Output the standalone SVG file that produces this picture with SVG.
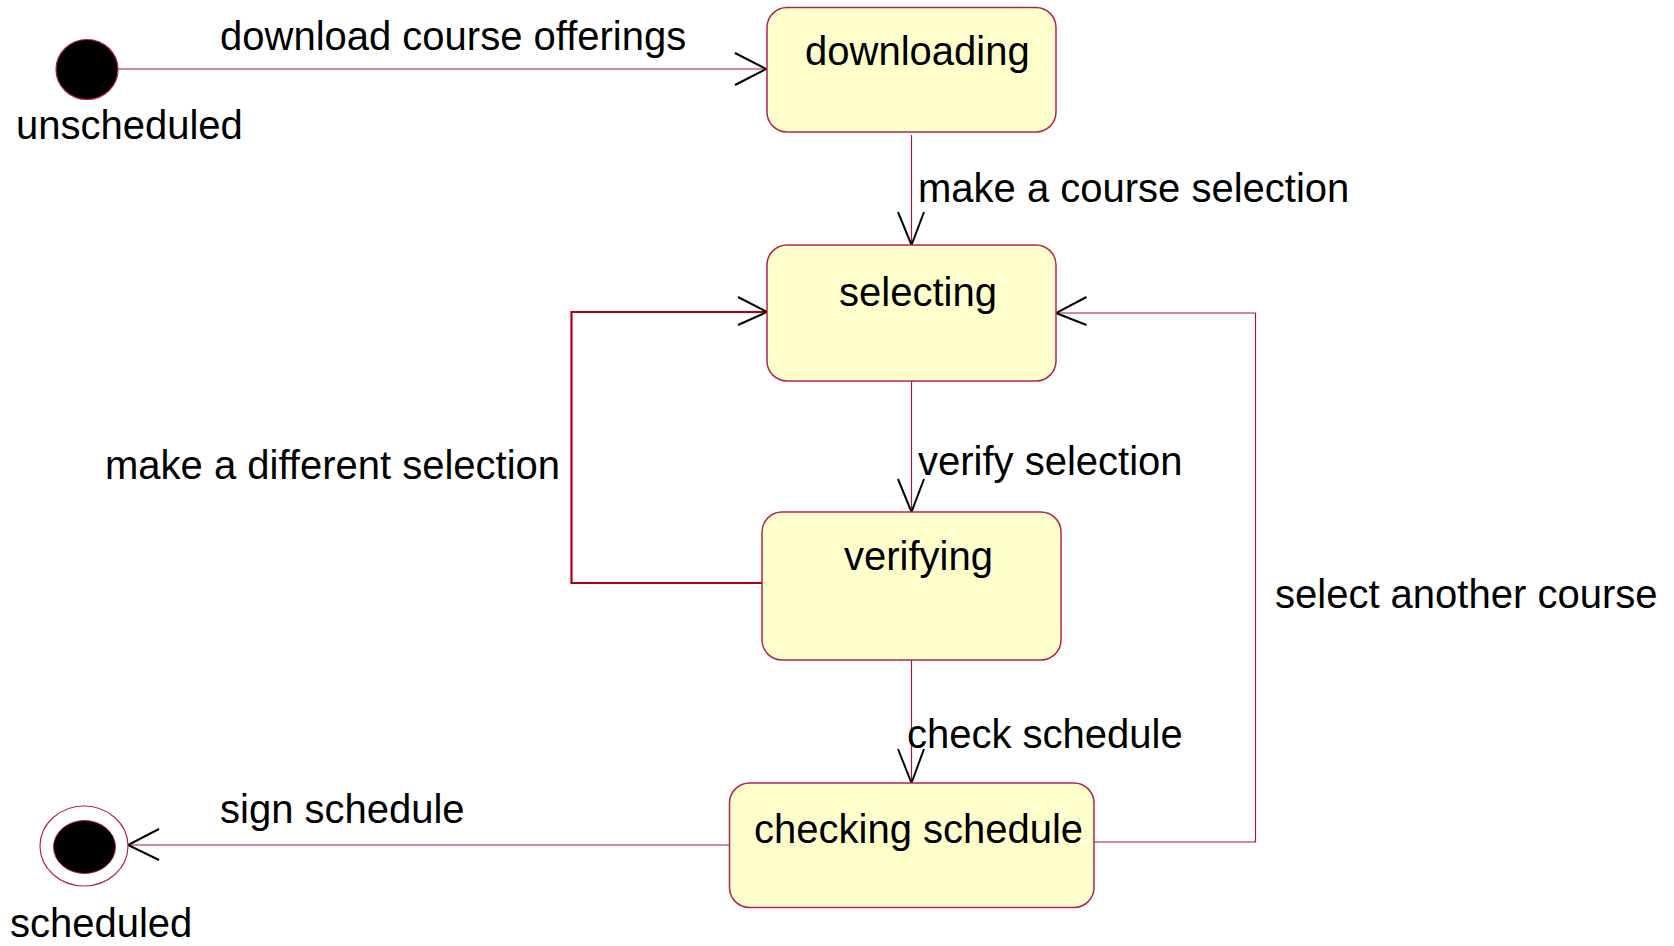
<svg xmlns="http://www.w3.org/2000/svg" width="1674" height="946" viewBox="0 0 1674 946">
<style>
.state{fill:#ffffcc;stroke:#b2244f;stroke-width:1.5}
.lbl{font-family:"Liberation Sans",Arial,sans-serif;font-size:40px;fill:#000}
.conn{fill:none;stroke:#a8144a;stroke-width:1.2}
.loop{fill:none;stroke:#b00010;stroke-width:2.2}
.head{fill:none;stroke:#000;stroke-width:2}
</style>
<rect width="1674" height="946" fill="#fff"/>
<g id="connectors">
  <path class="conn" d="M118,69 H766"/>
  <path class="head" d="M735,53 L766,69 L735,85"/>
  <path class="conn" d="M911.5,135 V245"/>
  <path class="head" d="M898,212 L911.5,245 L924,212"/>
  <path class="conn" d="M911.5,381 V512"/>
  <path class="head" d="M898,479 L911.5,512 L924,479"/>
  <path class="conn" d="M911.5,660 V783"/>
  <path class="head" d="M898,749 L911.5,783 L924,749"/>
  <path class="loop" d="M764,583 H571.5 V312 H767"/>
  <path class="head" d="M738,297 L767,312 L738,325"/>
  <path class="conn" d="M1094,842 H1255.5 V313 H1056"/>
  <path class="head" d="M1086.5,297 L1056,313 L1086.5,325"/>
  <path class="conn" d="M729,845 H128"/>
  <path class="head" d="M159,829 L128,845 L159,860"/>
  <text class="lbl" x="220" y="50">download course offerings</text>
  <text class="lbl" x="918" y="202">make a course selection</text>
  <text class="lbl" x="105" y="479">make a different selection</text>
  <text class="lbl" x="918" y="475">verify selection</text>
  <text class="lbl" x="1275" y="608">select another course</text>
  <text class="lbl" x="907" y="748">check schedule</text>
  <text class="lbl" x="220" y="823">sign schedule</text>
</g>
<g id="unscheduled">
  <ellipse cx="87" cy="69.5" rx="31" ry="30" fill="#000" stroke="#b2244f" stroke-width="1.2"/>
  <text class="lbl" x="16" y="139">unscheduled</text>
</g>
<g id="downloading">
  <rect class="state" x="767" y="7.5" width="289" height="124.5" rx="20"/>
  <text class="lbl" x="805" y="65">downloading</text>
</g>
<g id="selecting">
  <rect class="state" x="767" y="245" width="289" height="136" rx="20"/>
  <text class="lbl" x="839" y="306">selecting</text>
</g>
<g id="verifying">
  <rect class="state" x="762" y="512" width="299" height="148" rx="20"/>
  <text class="lbl" x="844" y="570">verifying</text>
</g>
<g id="checking">
  <rect class="state" x="729.5" y="783" width="364.5" height="124.5" rx="20"/>
  <text class="lbl" x="754" y="843">checking schedule</text>
</g>
<g id="scheduled">
  <ellipse cx="84" cy="846" rx="44" ry="40" fill="#fff" stroke="#b2244f" stroke-width="1.2"/>
  <ellipse cx="84.5" cy="847" rx="31" ry="26.5" fill="#000" stroke="#b2244f" stroke-width="1"/>
  <text class="lbl" x="10" y="937">scheduled</text>
</g>
</svg>
